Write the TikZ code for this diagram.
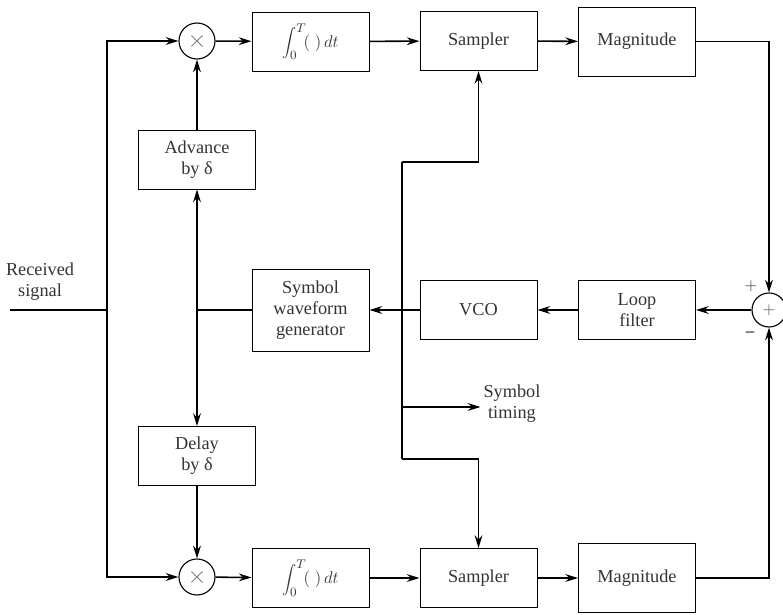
\documentclass[tikz,border=0pt]{standalone}
\usepackage{fontspec}
\setmainfont{Liberation Serif}
\usepackage{tikz}
\usetikzlibrary{arrows.meta,positioning,calc}

\begin{document}
\begin{tikzpicture}[font=\fontsize{13}{15}\selectfont,>={Stealth[length=9pt,width=5.5pt]},
 box/.style={draw,line width=0.7pt,align=center,inner sep=1pt,minimum width=2.925cm,minimum height=1.475cm,text=black!80},
 tall/.style={box,minimum height=1.725cm},
 mult/.style={draw,circle,line width=0.8pt,minimum size=0.9cm,inner sep=0pt,text=black!55,font=\LARGE},
 wire/.style={line width=1.1pt}]
\useasboundingbox (0,0) rectangle (19.575,15.35);
\node[mult] (mulT) at (4.925,14.325) {$\times$};
\node[box] (intT) at (7.7625,14.3125) {$\displaystyle\int_0^T\!(\;)\,dt$};
\node[box] (smpT) at (11.9625,14.325) {Sampler};
\node[tall] (magT) at (15.925,14.3125) {Magnitude};
\node[box] (adv) at (4.925,11.3625) {Advance\\by δ};
\node[box,minimum height=2.05cm] (swg) at (7.7625,7.6) {Symbol\\waveform\\generator};
\node[box] (vco) at (11.9625,7.6) {VCO};
\node[box] (lf) at (15.925,7.6) {Loop\\filter};
\node[mult,minimum size=0.85cm,text=black!70,font=\large] (sum) at (19.225,7.6) {$+$};
\node[text=black!80] (plus) at (18.775,8.2) {$+$};
\node[text=black!80,font=\bfseries\large] (minus) at (18.75,7.0) {–};
\node[box] (dly) at (4.925,3.95) {Delay\\by δ};
\node[mult] (mulB) at (4.925,0.925) {$\times$};
\node[box] (intB) at (7.7625,0.9) {$\displaystyle\int_0^T\!(\;)\,dt$};
\node[box] (smpB) at (11.9625,0.9) {Sampler};
\node[tall] (magB) at (15.925,0.9) {Magnitude};
\node[align=center,text=black!80] (rcv) at (1.0,8.3) {Received\\signal};
\node[align=center,text=black!80,inner sep=2pt] (timing) at (12.8,5.25) {Symbol\\timing};
\coordinate (in) at (0.25,7.6);
\coordinate (rx) at (2.675,7.6);
\coordinate (sx) at (4.925,7.6);
\coordinate (vx) at (10.05,7.6);
\coordinate (vt) at (10.05,11.3);
\coordinate (vb) at (10.05,3.875);
\coordinate (tm) at (10.05,5.175);
\draw[wire] (in) -- (rx);
\draw[wire,->] (rx) |- (mulT);
\draw[wire,->] (rx) |- (mulB);
\draw[wire,->] (mulT) -- (intT);
\draw[wire,->] (intT) -- (smpT);
\draw[wire,->] (smpT) -- (magT);
\draw[wire,->] (mulB) -- (intB);
\draw[wire,->] (intB) -- (smpB);
\draw[wire,->] (smpB) -- (magB);
\draw[wire,->] (adv) -- (mulT);
\draw[wire,->] (dly) -- (mulB);
\draw[wire] (swg) -- (sx);
\draw[wire,->] (sx) -- (adv);
\draw[wire,->] (sx) -- (dly);
\draw[wire,->] (magT) -| (sum);
\draw[wire,->] (magB) -| (sum);
\draw[wire,->] (sum) -- (lf);
\draw[wire,->] (lf) -- (vco);
\draw[wire,->] (vco) -- (swg);
\draw[wire] (vt) -- (vb);
\draw[wire,->] (vt) -| (smpT);
\draw[wire,->] (vb) -| (smpB);
\draw[wire,->] (tm) -- (tm -| timing.west);
\end{tikzpicture}
\end{document}
